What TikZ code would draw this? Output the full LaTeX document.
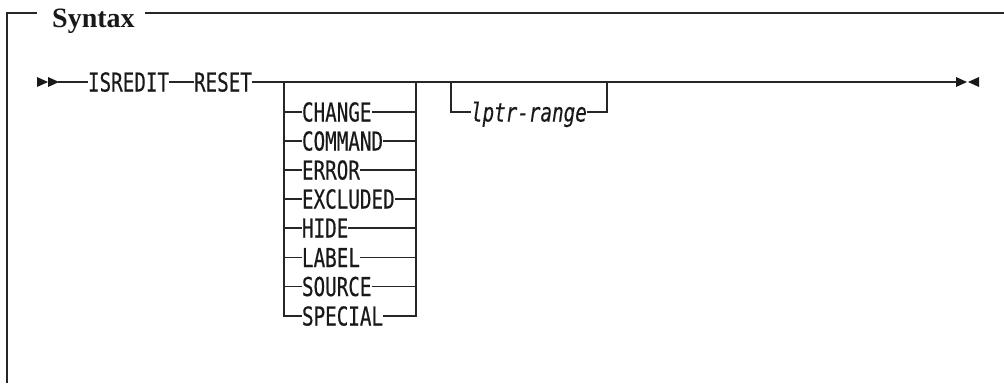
\documentclass[tikz,border=0pt]{standalone}
\usepackage{fontspec}
\newfontfamily\kwfont[FakeStretch=0.74,FakeBold=0.4]{DejaVu Sans Mono}
\newfontfamily\titlefont{Liberation Serif}
\begin{document}
\begin{tikzpicture}[x=1pt,y=-1pt,
  line/.style={draw=black!85,line width=1.2pt},
  kw/.style={inner sep=0pt,outer sep=0pt,anchor=west,text height=19pt,text depth=0pt,
    font=\kwfont\fontsize{26}{26}\selectfont,text=black!90},
  var/.style={kw,font=\kwfont\itshape\fontsize{26}{26}\selectfont},
  tip/.style={fill=black!90}]
\useasboundingbox (0,0) rectangle (1004,383);
% frame
\node[inner sep=0pt,anchor=base west,font=\titlefont\bfseries\fontsize{28}{28}\selectfont,text=black!90] (title) at (52,27) {Syntax};
\draw[line] (7,383) -- (7,13) -- (37,13);
\draw[line] (145,13) -- (1004,13);
% start arrows
\fill[tip] (37,77) -- (48,82) -- (37,87) -- cycle;
\fill[tip] (48,77) -- (59,82) -- (48,87) -- cycle;
\coordinate (s) at (58,82);
% end arrows
\fill[tip] (956,77) -- (967,82) -- (956,87) -- cycle;
\fill[tip] (979,77) -- (968,82) -- (979,87) -- cycle;
\coordinate (e) at (957,82);
% keywords
\node[kw] (isredit) at (88,82) {ISREDIT};
\node[kw] (reset) at (194,82) {RESET};
\coordinate (j1) at (284,82);
\coordinate (j2) at (416,82);
\coordinate (j3) at (451,82);
\coordinate (j4) at (607,82);
\draw[line] (s) -- (isredit.west);
\draw[line] (isredit.east) -- (reset.west);
\draw[line] (reset.east) -- (j1) -- (j2) -- (j3) -- (j4) -- (e);
% choices
\foreach \t/\n/\y in {CHANGE/c1/112,COMMAND/c2/141,ERROR/c3/170,EXCLUDED/c4/199,HIDE/c5/228,LABEL/c6/257.5,SOURCE/c7/286.5}{
  \node[kw] (\n) at (302,\y) {\t};
  \draw[line] (284,\y) -- (\n.west);
  \draw[line] (\n.east) -- (416,\y);
}
\node[kw] (c8) at (302,316) {SPECIAL};
\draw[line] (j1) -- (284,316) -- (c8.west);
\draw[line] (j2) -- (416,316) -- (c8.east);
% optional
\node[var] (lptr) at (471,112) {lptr-range};
\draw[line] (j3) -- (451,112) -- (lptr.west);
\draw[line] (lptr.east) -- (607,112) -- (j4);
\end{tikzpicture}
\end{document}
